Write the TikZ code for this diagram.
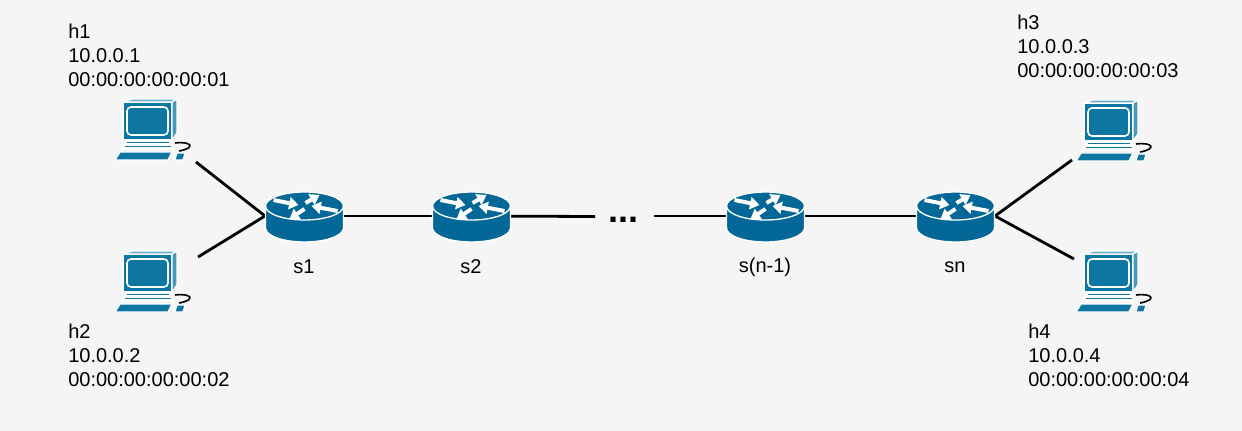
\documentclass[tikz,border=0pt]{standalone}
\usepackage{fontspec}
\setmainfont{Liberation Sans}
\usepackage{tikz}
\usetikzlibrary{arrows.meta, positioning, calc}

\definecolor{ciscoblue}{HTML}{036897}
\definecolor{screenblue}{HTML}{0E76A3}
\definecolor{pagegray}{HTML}{F5F5F5}

\tikzset{
  router/.pic={
    % body
    \fill[ciscoblue, draw=white, line width=1pt]
      (-39,-10) -- (-39,12) .. controls (-39,19.7) and (-21.5,26) .. (0,26)
      .. controls (21.5,26) and (39,19.7) .. (39,12) -- (39,-10)
      .. controls (39,-17.7) and (21.5,-24) .. (0,-24)
      .. controls (-21.5,-24) and (-39,-17.7) .. (-39,-10) -- cycle;
    \draw[white, line width=1pt] (-39,-10) .. controls (-39,-2.3) and (-21.5,4) .. (0,4)
      .. controls (21.5,4) and (39,-2.3) .. (39,-10);
    % arrows on top
    \draw[routerarr] (-31,-16) -- (-6,-11);
    \draw[routerarr] (1,-13) -- (15,-21);
    \draw[routerarr] (33,-5) -- (7,-10);
    \draw[routerarr] (0,-7) -- (-15,3);
  },
  host/.pic={
    % monitor
    \fill[screenblue, draw=white, line width=1pt]
      (-23,-22) -- (26,-22) -- (26,16) -- (-23,16) -- cycle;
    \fill[screenblue!60, draw=white, line width=1pt]
      (-23,-22) -- (-14,-25) -- (31,-25) -- (26,-22) -- cycle;
    \fill[screenblue!75, draw=white, line width=1pt]
      (26,-22) -- (31,-25) -- (31,9) -- (26,16) -- cycle;
    \draw[white, line width=1.2pt, rounded corners=3pt] (-19,-17) rectangle (22,11);
    % base
    \fill[white] (-22,16) -- (26,16) -- (28,26) -- (-25,26) -- cycle;
    \draw[screenblue, line width=0.8pt] (-19,18.5) -- (23,18.5);
    \draw[screenblue, line width=0.8pt] (-21,22.5) -- (25,22.5);
    % keyboard
    \fill[screenblue, draw=white, line width=1pt] (-26,28) -- (26,28) -- (22,36) -- (-31,36) -- cycle;
    % mouse
    \fill[screenblue, draw=white, line width=0.8pt] (31,29) -- (39,29) -- (37,36) -- (29,36) -- cycle;
    % cord
    \draw[black, line width=1.2pt] (29,19) .. controls (46,17) and (50,24) .. (33,27);
  },
  routerarr/.style={white, line width=3pt, -{Triangle[length=7pt,width=9pt]}},
  link/.style={black, line width=2.1pt},
  info/.style={align=left, anchor=north west, inner sep=0pt, font=\fontsize{15pt}{18pt}\selectfont},
  tag/.style={inner sep=0pt, font=\fontsize{15pt}{18pt}\selectfont},
}

\begin{document}
\begin{tikzpicture}[x=0.75pt, y=-0.75pt]
\useasboundingbox[fill=pagegray] (0,0) rectangle (1242,431);

% anchors for the devices
\coordinate (h1) at (146,124);
\coordinate (h2) at (146,276);
\coordinate (h3) at (1107,125);
\coordinate (h4) at (1107,276);
\coordinate (s1) at (304.5,216);
\coordinate (s2) at (471.5,216);
\coordinate (sm) at (765.5,216);
\coordinate (sn) at (955.5,216);
\coordinate (s1w) at (265,216);
\coordinate (sne) at (995,216);
\coordinate (gapl) at (595,216.5);
\coordinate (gapr) at (654,216);
\coordinate (h1end) at (196,162);
\coordinate (h2end) at (198,257);
\coordinate (h3end) at (1072,160);
\coordinate (h4end) at (1074,259);

% links
\draw[link] (h1end) -- (s1w);
\draw[link] (h2end) -- (s1w);
\draw[link] (s1) -- (s2);
\draw[link] (s2) -- (gapl);
\draw[link] (gapr) -- (sm);
\draw[link] (sm) -- (sn);
\draw[link] (sne) -- (h3end);
\draw[link] (sne) -- (h4end);

% devices
\foreach \r in {s1,s2,sm,sn}{\pic at (\r) {router};}
\foreach \h in {h1,h2,h3,h4}{\pic at (\h) {host};}

\node[font=\bfseries\fontsize{27pt}{27pt}\selectfont, inner sep=0pt, anchor=base] (dots) at (623,222) {...};

% labels
\node[tag] (ls1) at (304,267) {s1};
\node[tag] (ls2) at (471,267) {s2};
\node[tag] (lsm) at (765,267) {s(n-1)};
\node[tag] (lsn) at (955,267) {sn};
\node[info] (lh1) at (68,23.5) {h1\\10.0.0.1\\00:00:00:00:00:01};
\node[info] (lh2) at (68,323.5) {h2\\10.0.0.2\\00:00:00:00:00:02};
\node[info] (lh3) at (1017,14.5) {h3\\10.0.0.3\\00:00:00:00:00:03};
\node[info] (lh4) at (1028,323.5) {h4\\10.0.0.4\\00:00:00:00:00:04};
\end{tikzpicture}
\end{document}
